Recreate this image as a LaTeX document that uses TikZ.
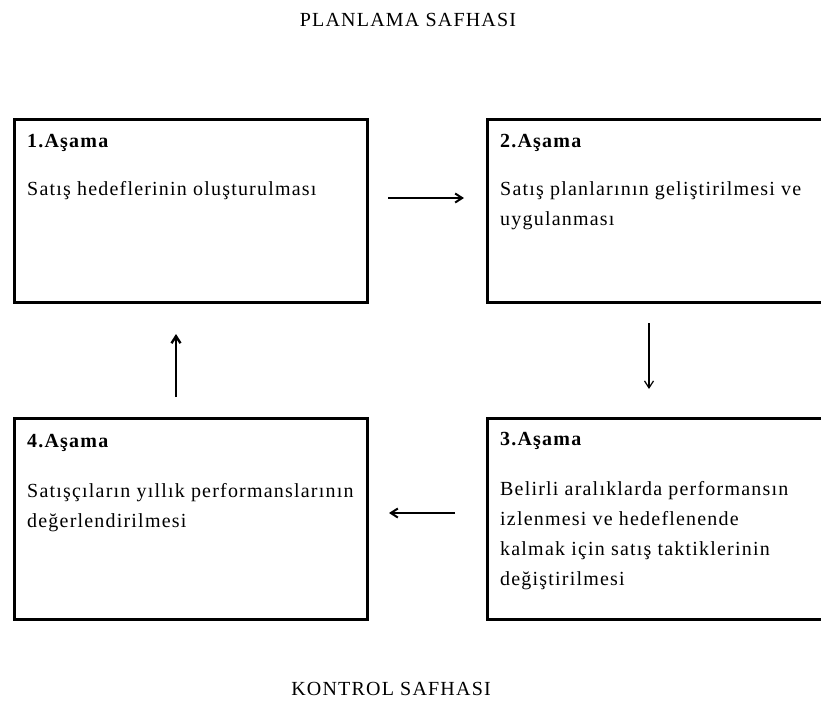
\documentclass[tikz,border=0pt]{standalone}
\usepackage{fontspec}
\setmainfont{Liberation Serif}
\newfontfamily\diagfont[LetterSpace=6]{Liberation Serif}
\usetikzlibrary{arrows.meta}
\begin{document}
\begin{tikzpicture}[x=1pt,y=-1pt,
  stagebox/.style={draw, line width=3pt, inner sep=0pt, minimum width=353pt},
  heading/.style={anchor=base west, inner sep=0pt, font=\diagfont\fontsize{20}{30}\selectfont\bfseries},
  bodytext/.style={anchor=base west, inner sep=0pt, align=left, font=\diagfont\fontsize{20}{30}\selectfont},
  phase/.style={anchor=base, inner sep=0pt, font=\diagfont\fontsize{20}{22}\selectfont},
  flow/.style={-{Straight Barb[length=7pt,width=9pt]}, line width=2pt}]
\useasboundingbox (0,0) rectangle (821,702);
\clip (0,0) rectangle (821,702);

% phase titles
\node[phase] (plan) at (408,26) {PLANLAMA SAFHASI};
\node[phase] (ctrl) at (391,695) {KONTROL SAFHASI};

% the four stages
\node[stagebox, minimum height=183pt] (s1) at (191,211) {};
\node[stagebox, minimum height=183pt] (s2) at (664,211) {};
\node[stagebox, minimum height=201pt] (s3) at (664,519) {};
\node[stagebox, minimum height=201pt] (s4) at (191,519) {};

% headings and descriptions (multi-line texts sit on their last baseline)
\node[heading] (h1) at (27,147) {1.Aşama};
\node[bodytext] (t1) at (27,195) {Satış hedeflerinin oluşturulması};
\node[heading] (h2) at (500,147) {2.Aşama};
\node[bodytext] (t2) at (500,225) {Satış planlarının geliştirilmesi ve\\uygulanması};
\node[heading] (h3) at (500,445) {3.Aşama};
\node[bodytext] (t3) at (500,585) {Belirli aralıklarda performansın\\izlenmesi ve hedeflenende\\kalmak için satış taktiklerinin\\değiştirilmesi};
\node[heading] (h4) at (27,447) {4.Aşama};
\node[bodytext] (t4) at (27,527) {Satışçıların yıllık performanslarının\\değerlendirilmesi};

% arrow end points between the stages
\coordinate (a1s) at (388,198);
\coordinate (a1e) at (464,198);
\coordinate (a2s) at (649,323);
\coordinate (a2e) at (649,389);
\coordinate (a3s) at (455,513);
\coordinate (a3e) at (389,513);
\coordinate (a4s) at (176,397);
\coordinate (a4e) at (176,334);

\draw[flow] (a1s) -- (a1e);
\draw[flow, line width=1.2pt] (a2s) -- (a2e);
\draw[flow] (a3s) -- (a3e);
\draw[flow, line width=2.4pt] (a4s) -- (a4e);
\end{tikzpicture}
\end{document}
